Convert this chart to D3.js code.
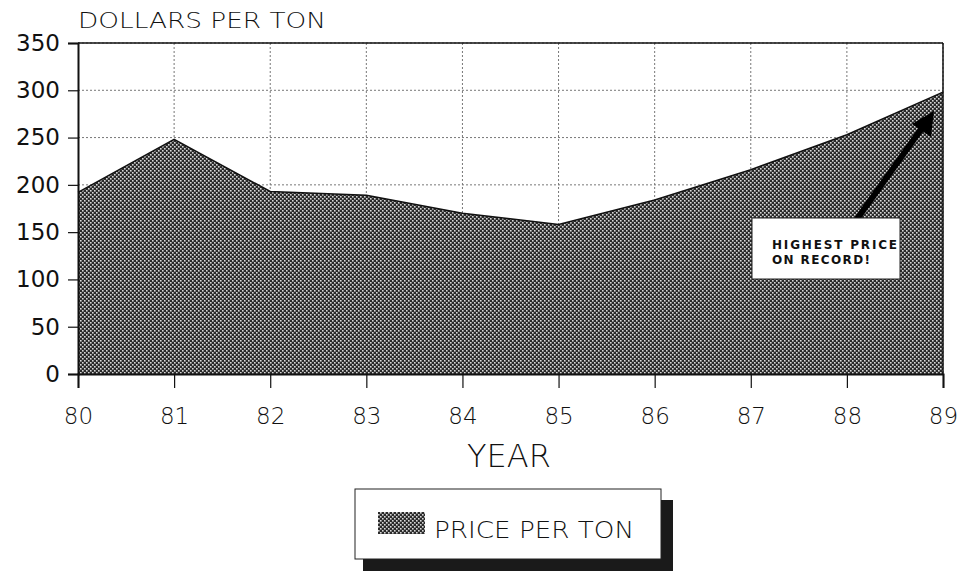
<!DOCTYPE html>
<html lang="en">
<head>
<meta charset="utf-8">
<script src="https://d3js.org/d3.v7.min.js"></script>
<style>
  body { margin: 0; background: #fff; }
  text { font-family: "DejaVu Sans", sans-serif; fill: #111; }
</style>
</head>
<body>
<svg width="958" height="571"></svg>
<script>
// data
var years = ["80", "81", "82", "83", "84", "85", "86", "87", "88", "89"];
var prices = [192, 248, 193, 189, 170, 158, 184, 216, 253, 298];
var yTicks = [0, 50, 100, 150, 200, 250, 300, 350];

var svg = d3.select("svg");
var plotLeft = 78, plotRight = 943, plotTop = 43, plotBottom = 374;

var x = d3.scalePoint().domain(years).range([plotLeft, plotRight]);
var y = d3.scaleLinear().domain([0, 350]).range([plotBottom, plotTop]);

// fine checker pattern like the scanned fill
var defs = svg.append("defs");
var pat = defs.append("pattern")
    .attr("id", "check")
    .attr("width", 4).attr("height", 4)
    .attr("patternUnits", "userSpaceOnUse");
pat.append("rect").attr("width", 4).attr("height", 4).attr("fill", "#2a2a2a");
pat.append("rect").attr("x", 0).attr("y", 0).attr("width", 1.6).attr("height", 1.6).attr("fill", "#d8d8d8");
pat.append("rect").attr("x", 2).attr("y", 2).attr("width", 1.6).attr("height", 1.6).attr("fill", "#d8d8d8");

// grid
svg.append("g").selectAll("line")
  .data(yTicks.slice(1))
  .enter().append("line")
    .attr("x1", plotLeft).attr("x2", plotRight)
    .attr("y1", function(d) { return y(d); })
    .attr("y2", function(d) { return y(d); })
    .attr("stroke", "#777").attr("stroke-width", 1)
    .attr("stroke-dasharray", "2,2");
svg.append("g").selectAll("line")
  .data(years.slice(1))
  .enter().append("line")
    .attr("x1", function(d) { return x(d); })
    .attr("x2", function(d) { return x(d); })
    .attr("y1", plotTop).attr("y2", plotBottom)
    .attr("stroke", "#777").attr("stroke-width", 1)
    .attr("stroke-dasharray", "2,2");

// area
var area = d3.area()
    .x(function(d, i) { return x(years[i]); })
    .y0(plotBottom)
    .y1(function(d) { return y(d); });
var line = d3.line()
    .x(function(d, i) { return x(years[i]); })
    .y(function(d) { return y(d); });

svg.append("path")
    .datum(prices)
    .attr("d", area)
    .attr("fill", "url(#check)");
svg.append("path")
    .datum(prices)
    .attr("d", line)
    .attr("fill", "none")
    .attr("stroke", "#111")
    .attr("stroke-width", 1.5);

// frame: top and right
svg.append("line").attr("x1", plotLeft).attr("x2", plotRight).attr("y1", plotTop).attr("y2", plotTop)
    .attr("stroke", "#111").attr("stroke-width", 1.5);
svg.append("line").attr("x1", plotRight).attr("x2", plotRight).attr("y1", plotTop).attr("y2", plotBottom)
    .attr("stroke", "#111").attr("stroke-width", 1.5);

// y axis
var yAxis = d3.axisLeft(y).tickValues(yTicks).tickSize(10).tickPadding(8);
var gy = svg.append("g").attr("transform", "translate(" + plotLeft + ",0)").call(yAxis);
gy.select(".domain").attr("stroke", "#111").attr("stroke-width", 2);
gy.selectAll(".tick line").attr("stroke", "#111").attr("stroke-width", 1.2);
gy.selectAll(".tick text")
    .attr("font-size", 23)
    .attr("font-family", "'Liberation Sans', Arial, sans-serif")
    .attr("fill", "#111");

// x axis
var xAxis = d3.axisBottom(x).tickSize(14).tickPadding(20);
var gx = svg.append("g").attr("transform", "translate(0," + plotBottom + ")").call(xAxis);
gx.select(".domain").attr("stroke", "#111").attr("stroke-width", 2);
gx.selectAll(".tick line").attr("stroke", "#111").attr("stroke-width", 1.2);
gx.selectAll(".tick text")
    .attr("font-size", 23)
    .attr("font-family", "'DejaVu Sans', sans-serif")
    .attr("font-weight", 200)
    .attr("fill", "#111");

// titles
svg.append("text")
    .attr("x", plotLeft).attr("y", 28)
    .attr("font-size", 22)
    .attr("font-weight", 200)
    .attr("textLength", 248)
    .attr("lengthAdjust", "spacingAndGlyphs")
    .text("DOLLARS PER TON");
svg.append("text")
    .attr("x", 509).attr("y", 467)
    .attr("text-anchor", "middle")
    .attr("font-size", 32)
    .attr("font-weight", 200)
    .text("YEAR");

// annotation
svg.append("line")
    .attr("x1", 857).attr("y1", 219)
    .attr("x2", 922).attr("y2", 128)
    .attr("stroke", "#000").attr("stroke-width", 6);
svg.append("path")
    .attr("d", "M934,111 L912,124 L931,137 Z")
    .attr("fill", "#000");
svg.append("rect")
    .attr("x", 752).attr("y", 218)
    .attr("width", 148).attr("height", 61)
    .attr("fill", "#fff").attr("stroke", "#222").attr("stroke-width", 1);
svg.append("text")
    .attr("x", 772).attr("y", 249)
    .attr("font-family", "'Liberation Sans', Arial, sans-serif")
    .attr("font-size", 12).attr("font-weight", "bold")
    .attr("textLength", 125)
    .attr("lengthAdjust", "spacing")
    .text("HIGHEST PRICE");
svg.append("text")
    .attr("x", 772).attr("y", 264)
    .attr("font-family", "'Liberation Sans', Arial, sans-serif")
    .attr("font-size", 12).attr("font-weight", "bold")
    .attr("textLength", 98)
    .attr("lengthAdjust", "spacing")
    .text("ON RECORD!");

// legend
var lg = svg.append("g");
lg.append("rect")
    .attr("x", 363).attr("y", 500)
    .attr("width", 310).attr("height", 75)
    .attr("fill", "#1a1a1a");
lg.append("rect")
    .attr("x", 355).attr("y", 489)
    .attr("width", 306).attr("height", 70)
    .attr("fill", "#fff").attr("stroke", "#222").attr("stroke-width", 1);
lg.append("rect")
    .attr("x", 378).attr("y", 512)
    .attr("width", 47).attr("height", 22)
    .attr("fill", "url(#check)");
lg.append("text")
    .attr("x", 434).attr("y", 538)
    .attr("font-size", 23)
    .attr("font-weight", 200)
    .attr("textLength", 200)
    .attr("lengthAdjust", "spacingAndGlyphs")
    .text("PRICE PER TON");
</script>
</body>
</html>
